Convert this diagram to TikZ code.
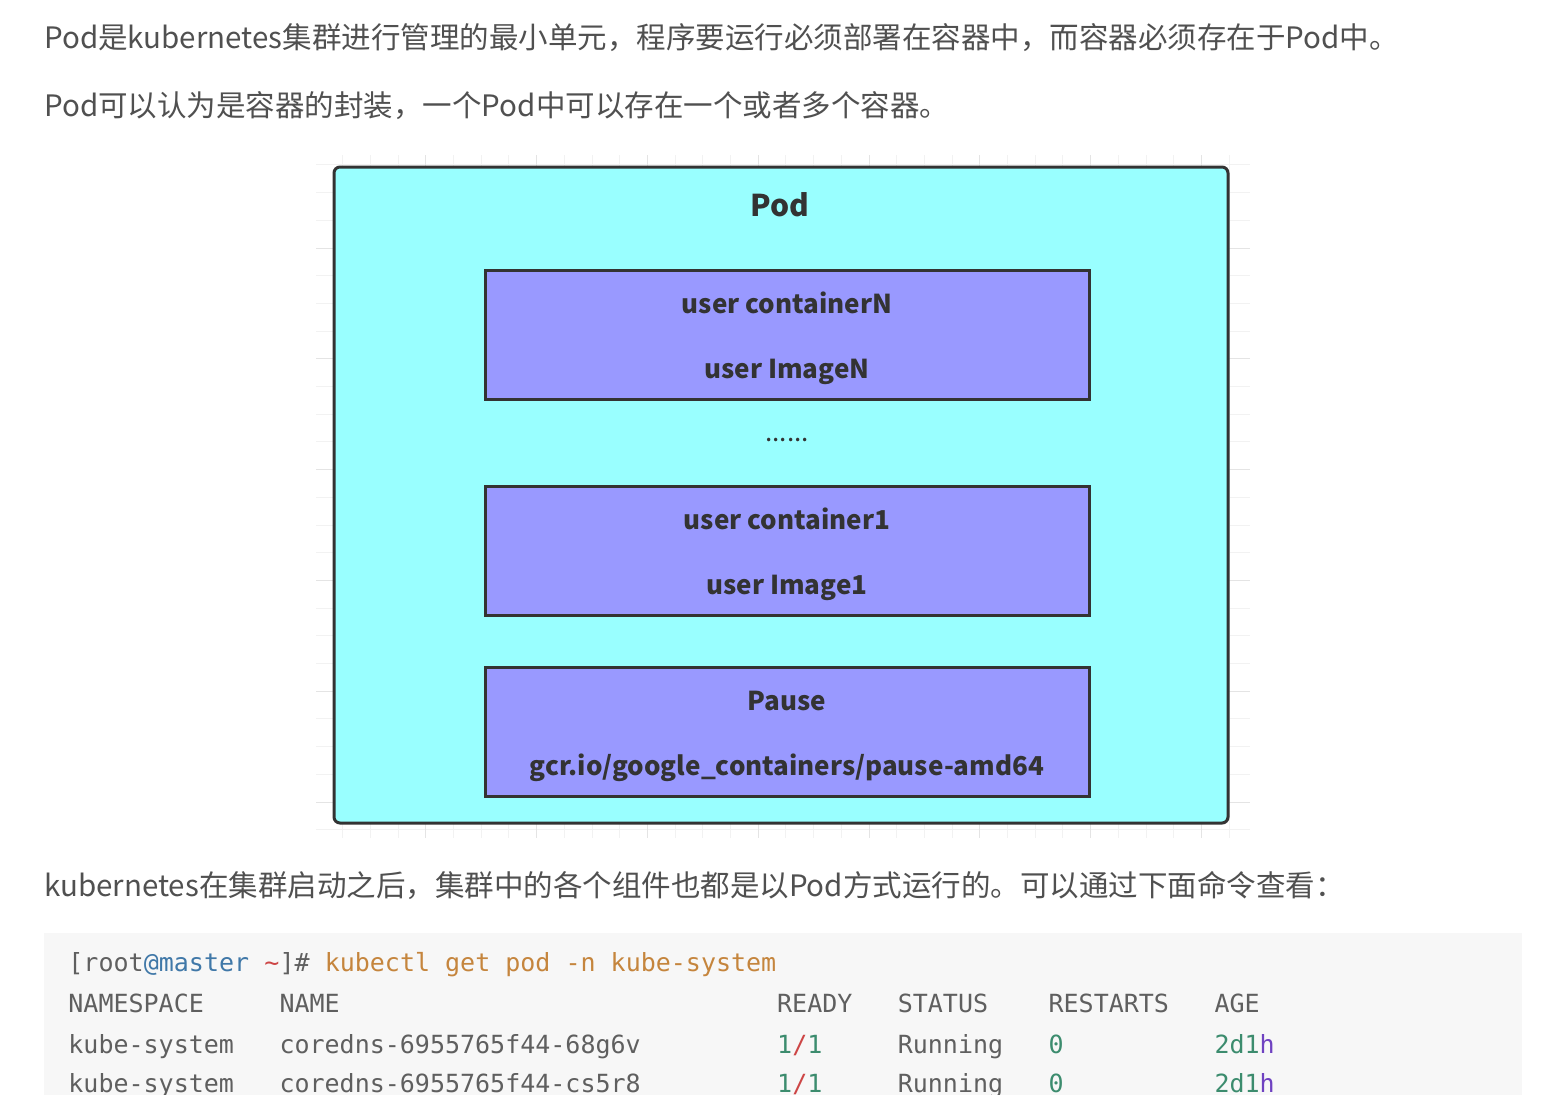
\documentclass[tikz,border=0pt]{standalone}
\usepackage{fontspec}
\setmainfont{Noto Sans CJK SC}
\setmonofont{DejaVu Sans Mono}
\usetikzlibrary{positioning}

\definecolor{txt}{RGB}{80,80,80}
\definecolor{podfill}{RGB}{153,255,255}
\definecolor{ctrfill}{RGB}{153,153,255}
\definecolor{edge}{RGB}{51,51,51}
\definecolor{gridminor}{RGB}{242,242,242}
\definecolor{gridmajor}{RGB}{228,228,228}
\definecolor{codebg}{RGB}{247,247,247}
\definecolor{cgray}{RGB}{95,95,95}
\definecolor{cblue}{RGB}{64,120,168}
\definecolor{cred}{RGB}{205,70,70}
\definecolor{corange}{RGB}{197,133,61}
\definecolor{cgreen}{RGB}{60,140,110}
\definecolor{cpurple}{RGB}{111,66,193}

\newcommand\containerbox[4]{
  \node[ctr] (#1) at (787, #2) {} ;
  \node[lbl] (#1top) at ([yshift=14.25pt]#1.center) {#3} ;
  \node[lbl] (#1bot) at ([yshift=-18.25pt]#1.center) {#4} ;
}
\newcommand\tok[5]{
  \node[code, text=#5] (#1) at ({68+15.08*#2}, #3) {#4} ;
}

\begin{document}
\begin{tikzpicture}[x=0.5pt, y=-0.5pt,
    para/.style={anchor=west, inner sep=0pt, text=txt,
      font=\fontsize{14.75}{18}\selectfont, text height=0.88em, text depth=0.12em},
    pod/.style={draw=edge, line width=1.5pt, fill=podfill, rounded corners=3pt,
      minimum width=447pt, minimum height=328pt, inner sep=0pt},
    ctr/.style={draw=edge, line width=1.5pt, fill=ctrfill,
      minimum width=302pt, minimum height=64.5pt, inner sep=0pt},
    lbl/.style={inner sep=0pt, text=edge, text height=0.7em, text depth=0pt,
      font=\bfseries\fontsize{13}{16}\selectfont},
    title/.style={text=edge, font=\bfseries\fontsize{15}{18}\selectfont},
    code/.style={anchor=west, inner sep=0pt, font=\ttfamily\fontsize{12.5}{15}\selectfont,
      text height=0.72em, text depth=0em}]
  \useasboundingbox (0,0) rectangle (1545,1094) ;
  \fill[white] (0,0) rectangle (1545,1094) ;

  \node[para] (line1) at (44,41) {Pod是kubernetes集群进行管理的最小单元，程序要运行必须部署在容器中，而容器必须存在于Pod中。} ;
  \node[para] (line2) at (44,109) {Pod可以认为是容器的封装，一个Pod中可以存在一个或者多个容器。} ;

  \begin{scope}
    \clip (316,155) rectangle (1250,838) ;
    \foreach \x in {315,342.7,...,1250}
      \draw[gridminor, line width=0.5pt] (\x,155) -- (\x,838) ;
    \foreach \y in {137.2,164.9,...,838}
      \draw[gridminor, line width=0.5pt] (316,\y) -- (1250,\y) ;
    \foreach \x in {315,425.8,...,1250}
      \draw[gridmajor, line width=0.5pt] (\x,155) -- (\x,838) ;
    \foreach \y in {137.2,248,...,838}
      \draw[gridmajor, line width=0.5pt] (316,\y) -- (1250,\y) ;
  \end{scope}

  \node[pod] (pod) at (781,495) {} ;
  \node[title] (podname) at (780,205) {Pod} ;
  \containerbox{ctrN}{334.5}{user containerN}{user ImageN}
  \node[title, font=\fontsize{13}{16}\selectfont] (dots) at (787,440) {......} ;
  \containerbox{ctr1}{550.5}{user container1}{user Image1}
  \containerbox{pause}{731.5}{Pause}{gcr.io/google\_containers/pause-amd64}

  \node[para] (line3) at (44,889) {kubernetes在集群启动之后，集群中的各个组件也都是以Pod方式运行的。可以通过下面命令查看：} ;

  \fill[codebg] (44,933) rectangle (1522,1100) ;
  \tok{pa}{0}{964}{[root}{cgray}
  \tok{pb}{5}{964}{@master}{cblue}
  \tok{pc}{13}{964}{\char`\~}{cred}
  \tok{pd}{14}{964}{]\#}{cgray}
  \tok{pe}{17}{964}{kubectl get pod -n kube-system}{corange}
  \tok{ha}{0}{1005}{NAMESPACE}{cgray}
  \tok{hb}{14}{1005}{NAME}{cgray}
  \tok{hc}{47}{1005}{READY}{cgray}
  \tok{hd}{55}{1005}{STATUS}{cgray}
  \tok{he}{65}{1005}{RESTARTS}{cgray}
  \tok{hf}{76}{1005}{AGE}{cgray}
  \foreach \r/\y/\pod in {1/1046/68g6v, 2/1085/cs5r8} {
    \tok{ns\r}{0}{\y}{kube-system}{cgray}
    \tok{nm\r}{14}{\y}{coredns-6955765f44-\pod}{cgray}
    \tok{ra\r}{47}{\y}{1}{cgreen}
    \tok{rb\r}{48}{\y}{/}{cred}
    \tok{rc\r}{49}{\y}{1}{cgreen}
    \tok{st\r}{55}{\y}{Running}{cgray}
    \tok{rs\r}{65}{\y}{0}{cgreen}
    \tok{aa\r}{76}{\y}{2d1}{cgreen}
    \tok{ab\r}{79}{\y}{h}{cpurple}
  }
\end{tikzpicture}
\end{document}
